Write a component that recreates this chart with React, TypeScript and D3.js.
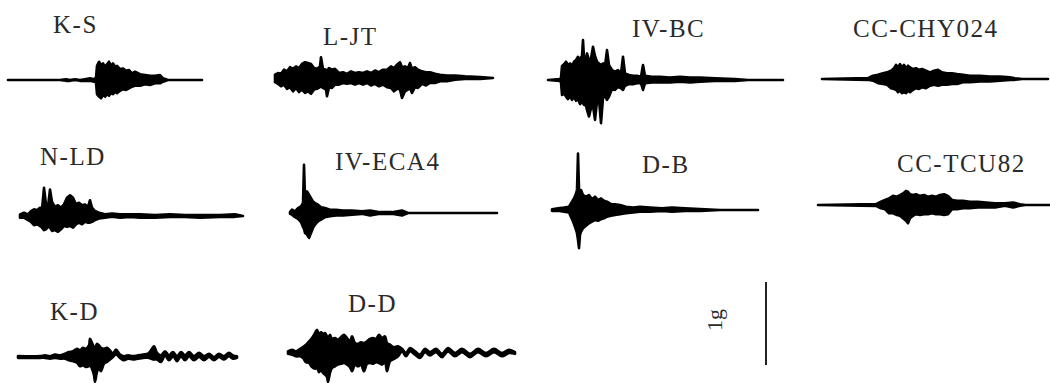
import React from 'react';
import * as d3 from 'd3';

// Each point: [time (s), upper envelope (% g), lower envelope (% g)]
type Pt = [number, number, number];

const traceNames = ['K-S', 'L-JT', 'IV-BC', 'CC-CHY024', 'N-LD', 'IV-ECA4', 'D-B', 'CC-TCU82', 'K-D', 'D-D'];

const KS: Pt[] = [
  [0, 0, 0], [10.4, 0, 0], [11.6, 1, -1], [12.4, 0, -1], [13.4, 1, 0], [14.4, 0, -1], [15.4, 1, -1], [16.4, 2, -1],
  [17.2, 1, -2], [17.6, 3, -3], [17.8, 17, -17], [18.2, 22, -20], [18.6, 18, -22], [19, 20, -18], [19.4, 16, -20],
  [19.8, 19, -17], [20.2, 22, -19], [20.6, 17, -16], [21, 20, -17], [21.4, 16, -14], [21.8, 17, -16], [22.4, 13, -13],
  [23, 14, -11], [23.6, 11, -12], [24.2, 12, -10], [24.8, 8, -8], [25.4, 10, -7], [26.4, 7, -7], [27.4, 6, -5],
  [28.4, 5, -6], [29.4, 5, -4], [30.4, 6, -4], [31, 2, -2], [32, 0, 0], [38.8, 0, 0],
];

const LJT: Pt[] = [
  [0, 4, -5], [0.6, 6, -7], [1.2, 5, -10], [1.8, 10, -8], [2.4, 8, -13], [3, 13, -11], [3.6, 11, -16], [4.2, 14, -12],
  [4.8, 12, -17], [5.4, 17, -14], [6, 19, -18], [6.6, 18, -16], [7.2, 17, -19], [7.8, 12, -14], [8.4, 11, -13],
  [9, 14, -11], [9.2, 25, -10], [9.6, 11, -12], [10.2, 10, -14], [10.4, 8, -22], [10.8, 12, -11], [11.4, 10, -12],
  [12, 11, -8], [12.8, 6, -8], [13.6, 7, -6], [14.4, 5, -7], [15.2, 8, -6], [16, 6, -8], [16.8, 7, -6],
  [17.6, 6, -8], [18.4, 8, -6], [19.2, 6, -9], [20, 9, -7], [20.8, 7, -10], [21.6, 10, -8], [22.4, 10, -11],
  [23.2, 14, -12], [23.8, 12, -16], [24.4, 16, -13], [25, 19, -14], [25.4, 13, -24], [26, 14, -16], [26.6, 12, -14],
  [27, 18, -12], [27.4, 11, -18], [28, 13, -11], [28.6, 10, -12], [29.4, 8, -7], [30.2, 7, -9], [31, 7, -6],
  [32, 5, -6], [33, 4, -4], [34.4, 3, -4], [36, 3, -2], [38, 2, -1], [41, 1, -1], [43.6, 0, 0],
];

const IVBC: Pt[] = [
  [0, 0, 0], [2.4, 1, -1], [2.6, 3, -3], [2.8, 17, -18], [3.2, 19, -16], [3.6, 22, -20], [4, 18, -23], [4.4, 20, -19],
  [4.8, 17, -24], [5.2, 22, -20], [5.6, 24, -25], [6, 28, -23], [6.4, 25, -29], [6.8, 29, -26], [7, 48, -28],
  [7.2, 27, -30], [7.6, 26, -31], [7.8, 32, -36], [8.2, 24, -44], [8.6, 26, -34], [9, 40, -31], [9.4, 29, -48], [9.8, 22, -26],
  [10.2, 20, -24], [10.6, 18, -52], [11, 20, -22], [11.4, 17, -19], [11.8, 36, -24], [12.2, 18, -20], [12.8, 12, -11],
  [13.4, 10, -12], [14, 12, -8], [14.6, 8, -10], [15, 28, -12], [15.4, 8, -7], [16.2, 6, -5], [17, 5, -5],
  [17.8, 5, -4], [18.6, 4, -4], [19, 18, -12], [19.4, 5, -4], [20.8, 4, -3], [22.4, 4, -3], [24.4, 3, -3],
  [26.4, 4, -2], [28.4, 3, -3], [30.4, 3, -2], [33.4, 2, -1], [37.4, 1, -1], [40, 0, 0], [47, 0, 0],
];

const CHY024: Pt[] = [
  [0, 0, 0], [9.2, 1, -1], [10.2, 4, -2], [11.2, 5, -5], [12.2, 7, -6], [13, 8, -7], [13.8, 10, -11], [14.4, 13, -12],
  [14.8, 17, -13], [15.2, 14, -16], [15.6, 18, -14], [16, 14, -17], [16.4, 17, -16], [16.8, 13, -17], [17.2, 16, -14],
  [17.6, 14, -16], [18.2, 12, -13], [18.8, 13, -11], [19.4, 11, -12], [20, 12, -10], [20.8, 10, -11], [21.6, 8, -8],
  [22.4, 10, -7], [23.2, 11, -8], [24, 8, -7], [25, 7, -7], [26, 7, -6], [27, 6, -6], [28.2, 5, -4], [29.6, 4, -4],
  [31.6, 4, -3], [33.6, 3, -3], [35.6, 3, -2], [37.6, 2, -1], [38.6, 1, -1], [40, 0, 0], [45.2, 0, 0],
];

const NLD: Pt[] = [
  [0, 2, -2], [0.8, 4, -2], [1.6, 2, -5], [2.2, 6, -7], [2.8, 8, -11], [3.4, 7, -10], [4, 10, -12], [4.4, 8, -14],
  [4.8, 34, -17], [5.2, 14, -16], [5.6, 11, -13], [6, 32, -14], [6.4, 17, -18], [7, 11, -17], [7.6, 13, -19],
  [8.2, 10, -16], [8.8, 14, -12], [9.4, 22, -13], [10, 25, -12], [10.6, 22, -14], [11.2, 14, -10], [11.8, 16, -8],
  [12.4, 13, -10], [13, 14, -7], [13.6, 11, -8], [14, 19, -8], [14.4, 10, -7], [15, 6, -5], [15.8, 4, -3],
  [17, 2, -2], [18.4, 3, -1], [20, 2, -2], [22, 2, -1], [24, 2, -2], [27, 1, -2], [30, 2, -1], [33, 1, -1],
  [36, 1, -2], [40, 1, -1], [43, 2, -1], [44.6, 0, 0],
];

const IVECA4: Pt[] = [
  [0, 1, -1], [0.4, 4, -2], [1, 2, -5], [1.6, 6, -7], [2.2, 8, -11], [2.6, 12, -17], [2.8, 58, -19], [3, 19, -24],
  [3.4, 26, -26], [3.8, 22, -30], [4.2, 18, -24], [4.6, 14, -18], [5, 12, -14], [5.6, 10, -10], [6.2, 7, -8],
  [7, 6, -5], [8, 4, -4], [9.2, 4, -3], [10.6, 3, -3], [12.4, 3, -2], [14.4, 2, -1], [16, 3, -3], [18, 1, -1],
  [20.4, 1, -1], [22.4, 3, -3], [23.6, 0, 0], [41.4, 0, 0],
];

const DB: Pt[] = [
  [0, 1, -1], [1.2, 2, -1], [2.4, 3, -2], [3.4, 4, -3], [4, 10, -11], [4.4, 14, -17], [4.8, 20, -24], [5, 24, -28],
  [5.2, 68, -36], [5.4, 26, -46], [5.6, 22, -30], [5.8, 24, -26], [6.2, 18, -22], [6.8, 16, -19], [7.4, 18, -16],
  [8, 13, -14], [8.6, 16, -12], [9.2, 12, -13], [9.8, 14, -11], [10.4, 11, -10], [11, 10, -8], [11.8, 7, -7],
  [12.6, 7, -6], [13.6, 6, -5], [14.8, 4, -4], [16.2, 3, -3], [17.6, 4, -2], [19.6, 3, -2], [22, 2, -1], [24, 3, -2],
  [26.6, 2, -1], [29.6, 1, -1], [33.6, 0, 0], [41.2, 0, 0],
];

const TCU82: Pt[] = [
  [0, 0, 0], [11.6, 1, -1], [12.6, 4, -4], [13.4, 6, -5], [14.2, 8, -10], [15, 11, -10], [15.8, 10, -12], [16.4, 12, -13],
  [17, 14, -16], [17.6, 17, -19], [18, 16, -22], [18.4, 13, -16], [19, 12, -13], [19.6, 13, -11], [20.4, 11, -12],
  [21.2, 12, -11], [22, 10, -11], [22.8, 11, -10], [23.6, 10, -11], [24.4, 12, -11], [25.2, 13, -12], [26, 11, -11],
  [26.8, 6, -5], [27.8, 5, -5], [29, 5, -4], [30.4, 4, -4], [32, 4, -3], [33.6, 3, -3], [35.4, 2, -3], [37.4, 2, -1],
  [39, 3, -3], [40.4, 1, -1], [41.5, 0, 0], [46.4, 0, 0],
];

const KD: Pt[] = [
  [0, 1, -1], [4.4, 1, -1], [5.4, 2, -1], [6.4, 1, -2], [7.4, 3, -1], [8.4, 2, -2], [9.4, 4, -2], [10.2, 6, -4],
  [11, 7, -5], [11.8, 10, -7], [12.4, 8, -11], [13, 11, -10], [13.6, 10, -12], [14.2, 14, -11], [14.4, 22, -10],
  [14.8, 17, -14], [15.2, 12, -22], [15.4, 11, -30], [15.8, 16, -18], [16.2, 14, -14], [16.6, 11, -17], [17.2, 10, -8],
  [17.8, 11, -6], [18.4, 8, -3], [19, 4, 0], [19.6, 9, 3], [20.4, 3, -1], [21.2, 1, -4], [22, 2, -2], [23, 1, -3],
  [24, 2, -2], [25, 3, -1], [26, 4, -1], [26.6, 8, -2], [27.2, 13, -3], [27.8, 5, -3], [28.6, 2, -6], [29.4, 7, 2],
  [30.2, 2, -4], [31, 6, 1], [31.8, 1, -5], [32.6, 6, 1], [33.4, 2, -4], [34.2, 6, 1], [35.2, 1, -4], [36.2, 5, 0],
  [37.2, 1, -4], [38.2, 4, 0], [39.2, 0, -4], [40.2, 4, 0], [41.2, 1, -3], [42.2, 5, 1], [43, 2, -2], [43.8, 1, -1],
];

const DD: Pt[] = [
  [0, 2, -1], [0.8, 4, -2], [1.6, 2, -4], [2.4, 5, -4], [3, 7, -6], [3.6, 10, -11], [4.2, 14, -12], [4.8, 18, -17],
  [5.4, 24, -19], [5.8, 28, -18], [6.2, 22, -23], [6.6, 25, -20], [7, 23, -24], [7.4, 24, -26], [7.8, 20, -29],
  [8, 18, -35], [8.4, 22, -24], [8.8, 17, -18], [9.4, 18, -16], [10, 16, -14], [10.6, 19, -13], [11.2, 22, -12],
  [11.8, 18, -14], [12.4, 14, -17], [12.8, 20, -22], [13.4, 12, -14], [14, 11, -16], [14.6, 13, -14], [15.2, 12, -22],
  [15.8, 14, -13], [16.4, 17, -12], [17, 18, -13], [17.6, 17, -11], [18.2, 22, -12], [18.8, 18, -14], [19.4, 20, -11],
  [19.8, 12, -22], [20.4, 10, -10], [21.2, 7, -7], [22, 8, -4], [22.8, 5, 2], [23.6, 0, -4], [24.4, 6, 2],
  [25.4, 2, -2], [26.4, -2, -6], [27.4, 5, 1], [28.4, 1, -3], [29.6, 5, 1], [30.8, -1, -5], [32, 6, 2], [33.4, 0, -4],
  [34.8, 5, 1], [36.4, -1, -5], [38, 5, 1], [39.6, 0, -4], [41.2, 5, 1], [42.8, 0, -4], [44.2, 4, 0], [45.4, 1, -1],
];

const traceData: Pt[][] = [KS, LJT, IVBC, CHY024, NLD, IVECA4, DB, TCU82, KD, DD];

const scaleBarValue = 100; // % g  (= 1 g)
const scaleBarLabel = '1g';

// ---- layout (positions / styles only) ----
const layout = [
  { x0: 8, x1: 202, base: 80, lx: 53, ly: 33, smooth: false },
  { x0: 275, x1: 493, base: 78, lx: 323, ly: 45, smooth: false },
  { x0: 548, x1: 783, base: 80, lx: 632, ly: 37, smooth: false },
  { x0: 822, x1: 1048, base: 79, lx: 853, ly: 37, smooth: false },
  { x0: 20, x1: 243, base: 216, lx: 40, ly: 165, smooth: false },
  { x0: 290, x1: 497, base: 213, lx: 335, ly: 170, smooth: false },
  { x0: 552, x1: 758, base: 210, lx: 642, ly: 173, smooth: false },
  { x0: 818, x1: 1050, base: 205, lx: 897, ly: 172, smooth: false },
  { x0: 18, x1: 237, base: 357, lx: 50, ly: 320, smooth: true },
  { x0: 288, x1: 515, base: 353, lx: 348, ly: 312, smooth: true },
];
const scaleBarLayout = { x: 766, cy: 323.5, labelX: 722, labelY: 320 };

const W = 1050;
const H = 383;
const FONT = "'Liberation Serif', 'Times New Roman', serif";

export default function App() {
  const y = d3.scaleLinear().domain([-100, 100]).range([83, -83]);
  const barLen = y(0) - y(scaleBarValue);

  return (
    <svg width={W} height={H} style={{ position: 'absolute', left: 0, top: 0, background: '#fff' }}>
      <rect x={0} y={0} width={W} height={H} fill="#fff" />
      {traceData.map((data, i) => {
        const L = layout[i];
        const x = d3
          .scaleLinear()
          .domain([0, d3.max(data, (d) => d[0]) as number])
          .range([L.x0, L.x1]);
        const area = d3
          .area<Pt>()
          .x((d) => x(d[0]))
          .y0((d) => y(d[2]))
          .y1((d) => y(d[1]))
          .curve(L.smooth ? d3.curveCatmullRom.alpha(0.5) : d3.curveLinear);
        return (
          <g key={traceNames[i]}>
            <g transform={`translate(0,${L.base})`}>
              <path d={area(data) || ''} fill="#000" stroke="#000" strokeWidth={2.6} strokeLinejoin="round" />
            </g>
            <text x={L.lx} y={L.ly} fontFamily={FONT} fontSize={25} letterSpacing={1.5} fill="#2a2a2a">
              {traceNames[i]}
            </text>
          </g>
        );
      })}
      <line
        x1={scaleBarLayout.x}
        x2={scaleBarLayout.x}
        y1={scaleBarLayout.cy - barLen / 2}
        y2={scaleBarLayout.cy + barLen / 2}
        stroke="#222"
        strokeWidth={2}
      />
      <text
        transform={`translate(${scaleBarLayout.labelX},${scaleBarLayout.labelY}) rotate(-90)`}
        textAnchor="middle"
        fontFamily={FONT}
        fontSize={22}
        fill="#2a2a2a"
      >
        {scaleBarLabel}
      </text>
    </svg>
  );
}
